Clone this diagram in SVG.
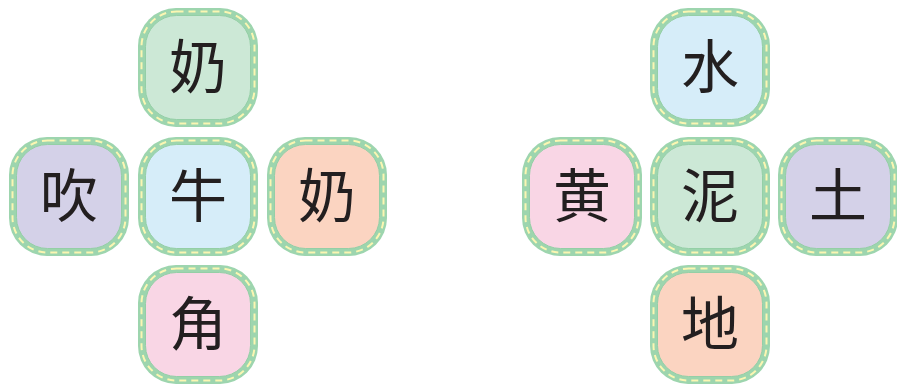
<svg xmlns="http://www.w3.org/2000/svg" xmlns:xlink="http://www.w3.org/1999/xlink" width="897" height="384" viewBox="0 0 897 384">
<style>
.outer{fill:#9dd5ae}
.dash{fill:none;stroke:#fbf6b2;stroke-width:2;stroke-dasharray:7 5}
.inner{stroke:#94cfa6;stroke-width:1}
.g{fill:#cce8d6}.b{fill:#d6edf9}.l{fill:#d4d1e8}.p{fill:#fbd4c1}.k{fill:#f9d6e5}
text{font-family:"Noto Sans CJK SC","Noto Sans CJK TC",sans-serif;font-size:58px;font-weight:400;fill:#231f20;text-anchor:middle}
</style>
<defs>
<g id="frame">
<rect class="outer" x="0" y="0" width="120" height="119" rx="38"/>
<rect class="dash" x="3.5" y="3.5" width="113" height="112" rx="35"/>
</g>
</defs>
<g id="n1"><use xlink:href="#frame" x="138" y="8"/><rect class="inner g" x="145.5" y="15.5" width="105" height="104" rx="31"/><text x="198" y="88">奶</text></g>
<g id="n2"><use xlink:href="#frame" x="9" y="137"/><rect class="inner l" x="16.5" y="144.5" width="105" height="104" rx="31"/><text x="69" y="217">吹</text></g>
<g id="n3"><use xlink:href="#frame" x="138" y="137"/><rect class="inner b" x="145.5" y="144.5" width="105" height="104" rx="31"/><text x="198" y="217">牛</text></g>
<g id="n4"><use xlink:href="#frame" x="267" y="137"/><rect class="inner p" x="274.5" y="144.5" width="105" height="104" rx="31"/><text x="327" y="217">奶</text></g>
<g id="n5"><use xlink:href="#frame" x="138" y="265"/><rect class="inner k" x="145.5" y="272.5" width="105" height="104" rx="31"/><text x="198" y="345">角</text></g>
<g id="n6"><use xlink:href="#frame" x="650" y="8"/><rect class="inner b" x="657.5" y="15.5" width="105" height="104" rx="31"/><text x="710" y="88">水</text></g>
<g id="n7"><use xlink:href="#frame" x="522" y="137"/><rect class="inner k" x="529.5" y="144.5" width="105" height="104" rx="31"/><text x="582" y="217">黄</text></g>
<g id="n8"><use xlink:href="#frame" x="650" y="137"/><rect class="inner g" x="657.5" y="144.5" width="105" height="104" rx="31"/><text x="710" y="217">泥</text></g>
<g id="n9"><use xlink:href="#frame" x="778" y="137"/><rect class="inner l" x="785.5" y="144.5" width="105" height="104" rx="31"/><text x="838" y="217">土</text></g>
<g id="n10"><use xlink:href="#frame" x="650" y="265"/><rect class="inner p" x="657.5" y="272.5" width="105" height="104" rx="31"/><text x="710" y="345">地</text></g>
<g id="connectors"/>
</svg>
